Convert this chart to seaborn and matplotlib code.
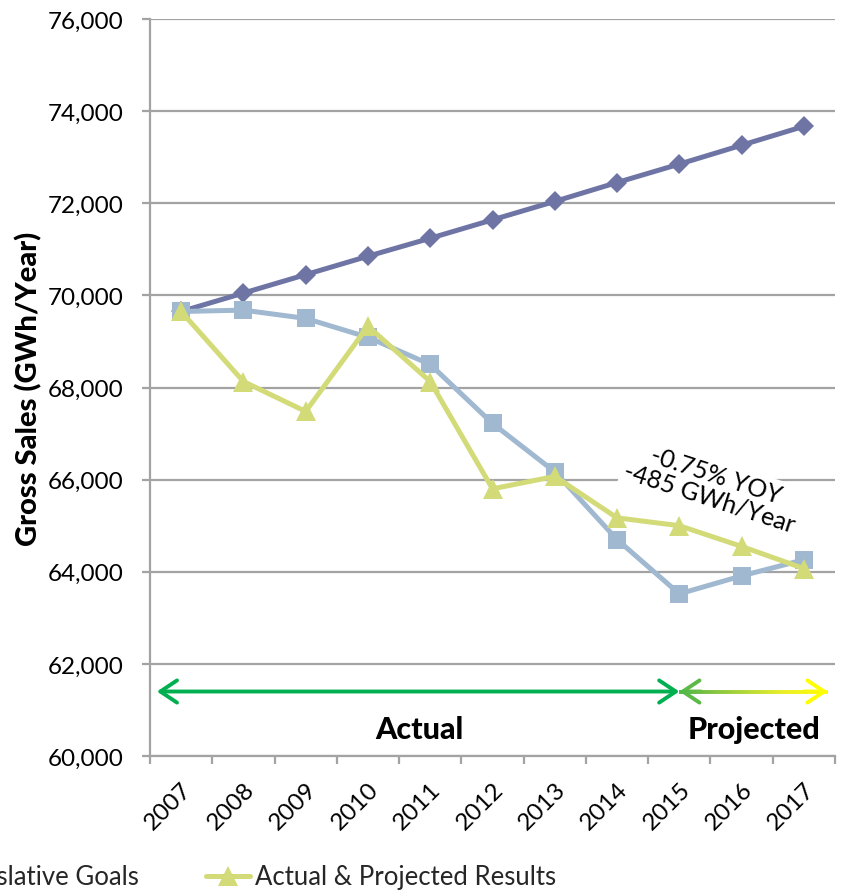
import numpy as np
import pandas as pd
import matplotlib
matplotlib.use("Agg")
import matplotlib.pyplot as plt
import seaborn as sns
from matplotlib.collections import LineCollection
from matplotlib.colors import LinearSegmentedColormap
from matplotlib.ticker import FuncFormatter, FixedLocator

# Gross electricity sales, GWh per year
years = ["2007", "2008", "2009", "2010", "2011", "2012",
         "2013", "2014", "2015", "2016", "2017"]
legislative_goals = [69650, 70050, 70450, 70850, 71240, 71640,
                     72040, 72450, 72850, 73260, 73670]
weather_adjusted = [69650, 69680, 69500, 69090, 68500, 67220,
                    66170, 64700, 63520, 63910, 64260]
actual_projected = [69650, 68130, 67480, 69330, 68130, 65800,
                    66070, 65170, 65000, 64550, 64070]

series_names = ["Weather-Adjusted Sales", "Legislative Goals",
                "Actual & Projected Results"]

sns.set_theme(style="white")
plt.rcParams["font.family"] = ["Lato", "DejaVu Sans"]

W, H = 841, 895
fig = plt.figure(figsize=(W / 100, H / 100), dpi=100)
ax = fig.add_axes([150 / W, 1 - 757 / H, 685 / W, 737 / H])

df = pd.DataFrame({
    "Year": years,
    series_names[0]: weather_adjusted,
    series_names[1]: legislative_goals,
    series_names[2]: actual_projected,
})

styles = {
    series_names[1]: dict(color="#6E75A5", marker="D", markersize=10.5, z=3),
    series_names[0]: dict(color="#A0B8D0", marker="s", markersize=13.5, z=4),
    series_names[2]: dict(color="#D3DB79", marker="^", markersize=15, z=5),
}

for name in [series_names[1], series_names[0], series_names[2]]:
    st = styles[name]
    sns.lineplot(data=df, x="Year", y=name, ax=ax, color=st["color"],
                 marker=st["marker"], markersize=st["markersize"],
                 markeredgewidth=0, linewidth=3.6, label=name,
                 zorder=st["z"], legend=False)

if ax.get_legend() is not None:
    ax.get_legend().remove()

# axes styling
grid_c = "#A3A3A3"
ax.set_ylim(60000, 76000)
ax.set_xlim(-0.5, len(years) - 0.5)
ax.set_yticks(np.arange(60000, 76001, 2000))
ax.yaxis.set_major_formatter(FuncFormatter(lambda v, p: f"{v:,.0f}"))
ax.yaxis.grid(True, color=grid_c, linewidth=1.6)
ax.xaxis.grid(False)
ax.set_axisbelow(True)
for side in ["top", "right"]:
    ax.spines[side].set_visible(False)
for side in ["left", "bottom"]:
    ax.spines[side].set_color(grid_c)
    ax.spines[side].set_linewidth(1.6)

ax.set_xticks(np.arange(len(years)))
ax.set_xticklabels(years, rotation=45, ha="right", rotation_mode="anchor")
ax.xaxis.set_minor_locator(FixedLocator(np.arange(-0.5, len(years), 1.0)))
ax.tick_params(axis="x", which="major", length=0, pad=16, labelsize=17.5,
               labelcolor="black")
ax.tick_params(axis="x", which="minor", length=6, width=1.6, color=grid_c,
               direction="out", bottom=True)
ax.tick_params(axis="y", length=6, width=1.6, color=grid_c, direction="out",
               left=True, pad=13, labelsize=17.5, labelcolor="black")

ax.set_xlabel("")
ax.set_ylabel("Gross Sales (GWh/Year)", fontsize=21, fontweight=900,
              color="black", labelpad=4)

# actual / projected period arrows
arrow_y = 61400
ax.annotate("", xy=(-0.39, arrow_y), xytext=(8.0, arrow_y),
            arrowprops=dict(arrowstyle="<->,head_length=0.6,head_width=0.4",
                            color="#00B050", lw=2.8, shrinkA=0, shrinkB=0,
                            mutation_scale=20), zorder=6)
ax.annotate("", xy=(8.0, arrow_y), xytext=(8.35, arrow_y),
            arrowprops=dict(arrowstyle="->,head_length=0.6,head_width=0.4",
                            color="#5CB947", lw=2.8, shrinkA=0, shrinkB=0,
                            mutation_scale=20), zorder=6)
ax.annotate("", xy=(10.38, arrow_y), xytext=(10.0, arrow_y),
            arrowprops=dict(arrowstyle="->,head_length=0.6,head_width=0.4",
                            color="#FFFF00", lw=2.8, shrinkA=0, shrinkB=0,
                            mutation_scale=20), zorder=6)
gx = np.linspace(8.0, 10.38, 120)
segs = [[(gx[i], arrow_y), (gx[i + 1], arrow_y)] for i in range(len(gx) - 1)]
grad = LinearSegmentedColormap.from_list(
    "period", [(0.0, "#4CB848"), (0.2, "#7DC242"), (0.7, "#E9EE28"), (1.0, "#FFFF00")])
lc = LineCollection(segs, colors=grad(np.linspace(0, 1, len(segs))),
                    linewidths=2.8, zorder=7, capstyle="butt")
ax.add_collection(lc)

ax.text(3.83, 60590, "Actual", ha="center", va="center", fontsize=22,
        fontweight=900, color="black")
ax.text(9.2, 60590, "Projected", ha="center", va="center", fontsize=22,
        fontweight=900, color="black")

ax.text(8.54, 65870, "-0.75% YOY\n-485 GWh/Year", ha="center", va="center",
        rotation=-18, fontsize=18, color="black", linespacing=1.0,
        bbox=dict(facecolor="white", edgecolor="none", pad=2), zorder=2)

handles, labels = ax.get_legend_handles_labels()
order = [labels.index(n) for n in series_names]
fig.legend([handles[i] for i in order], [labels[i] for i in order],
           loc="center right", bbox_to_anchor=(556 / W, 1 - 878 / H),
           ncol=3, frameon=False, fontsize=18.5, handlelength=1.7,
           handletextpad=0.2, columnspacing=2.6, borderaxespad=0,
           borderpad=0)

fig.savefig("out.png", dpi=100)
